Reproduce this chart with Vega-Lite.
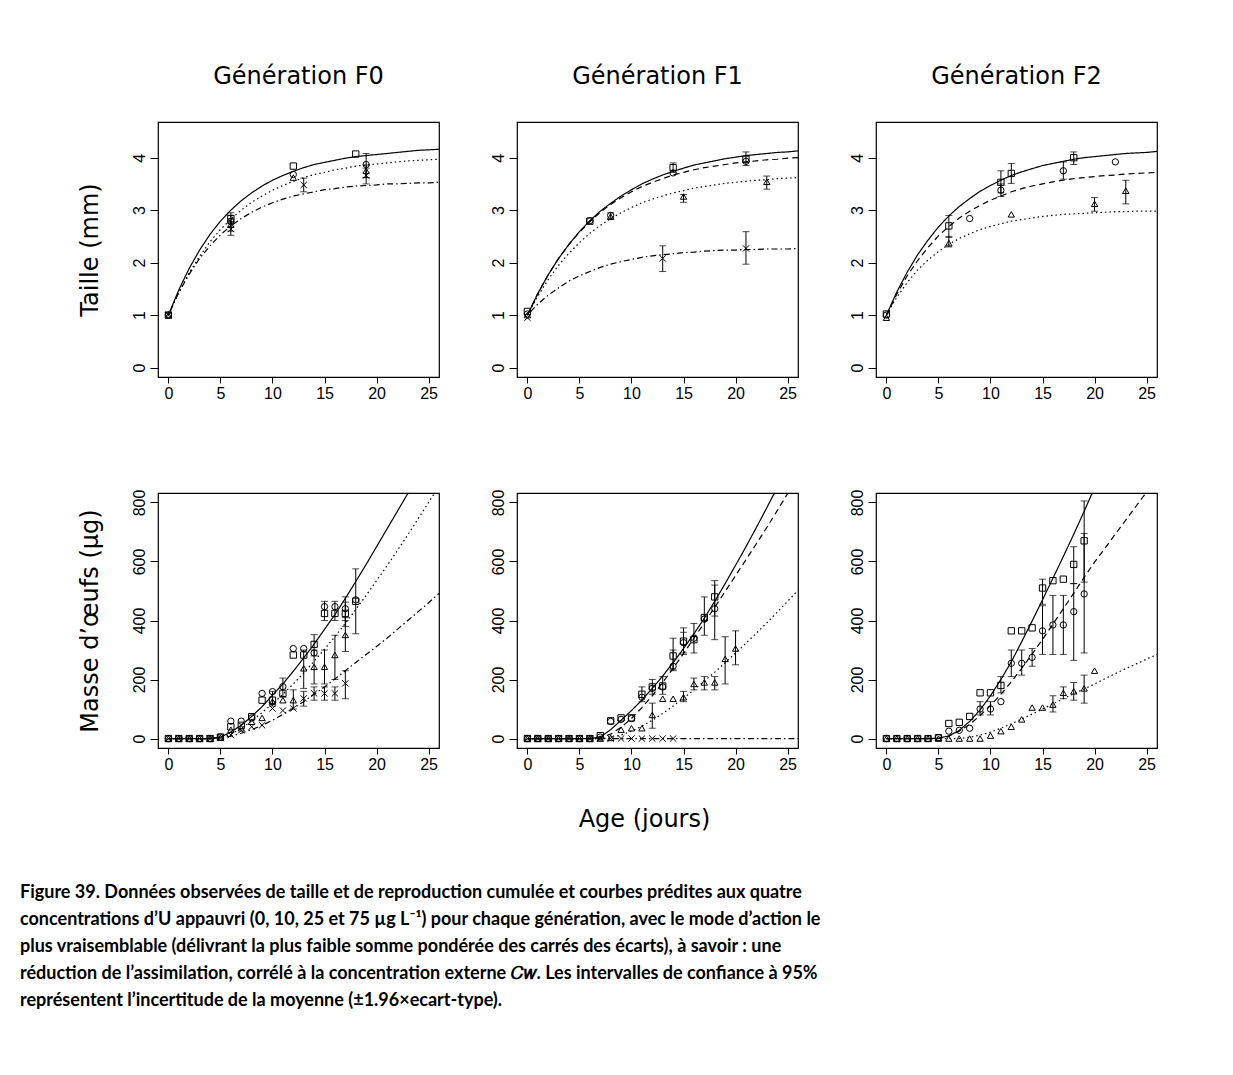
{
"$schema": "https://vega.github.io/schema/vega-lite/v6.json",
"background": "white",
"padding": {"left": 20, "top": 64, "right": 5, "bottom": 5},
"title": {
  "text": [
    "Figure 39. Données observées de taille et de reproduction cumulée et courbes prédites aux quatre",
    "concentrations d’U appauvri (0, 10, 25 et 75 µg L⁻¹) pour chaque génération, avec le mode d’action le",
    "plus vraisemblable (délivrant la plus faible somme pondérée des carrés des écarts), à savoir : une",
    "réduction de l’assimilation, corrélé à la concentration externe 𝐶𝑤. Les intervalles de confiance à 95%",
    "représentent l’incertitude de la moyenne (±1.96×ecart-type)."
  ],
  "orient": "bottom", "anchor": "start", "frame": "group", "dx": -138, "offset": 52,
  "baseline": "top", "align": "left",
  "font": "Lato", "fontSize": 18, "fontWeight": "bold", "color": "black", "lineHeight": 27
},
"config": {
  "view": {"stroke": "black", "strokeWidth": 1.2},
  "axis": {"grid": false, "domain": false, "tickColor": "black", "tickWidth": 1, "labelColor": "black", "labelFont": "Liberation Sans", "labelFontSize": 16, "titleFont": "DejaVu Sans", "titleFontSize": 24, "titleFontWeight": "normal", "titleColor": "black"},
  "axisX": {"tickSize": 6, "labelPadding": 2},
  "axisY": {"tickSize": 8, "labelPadding": 6, "labelAngle": -90, "labelAlign": "center", "labelBaseline": "alphabetic", "format": "d"},
  "title": {"font": "DejaVu Sans", "fontSize": 24, "fontWeight": "normal", "color": "black", "baseline": "alphabetic", "offset": 33}
},
"datasets": {
  "cT0": [
    {"x":0,"c0":1.00,"c25":1.00,"c75":1.00},{"x":1,"c0":1.48,"c25":1.43,"c75":1.43},{"x":2,"c0":1.89,"c25":1.81,"c75":1.78},{"x":3,"c0":2.24,"c25":2.12,"c75":2.08},{"x":4,"c0":2.54,"c25":2.40,"c75":2.32},{"x":5,"c0":2.79,"c25":2.63,"c75":2.53},{"x":6,"c0":3.00,"c25":2.83,"c75":2.70},{"x":7,"c0":3.18,"c25":3.00,"c75":2.84},{"x":8,"c0":3.33,"c25":3.15,"c75":2.96},{"x":9,"c0":3.46,"c25":3.27,"c75":3.06},{"x":10,"c0":3.57,"c25":3.38,"c75":3.14},{"x":11,"c0":3.66,"c25":3.47,"c75":3.21},{"x":12,"c0":3.74,"c25":3.55,"c75":3.27},{"x":13,"c0":3.81,"c25":3.62,"c75":3.31},{"x":14,"c0":3.87,"c25":3.68,"c75":3.35},{"x":15,"c0":3.91,"c25":3.72,"c75":3.39},{"x":16,"c0":3.95,"c25":3.77,"c75":3.41},{"x":17,"c0":3.99,"c25":3.80,"c75":3.44},{"x":18,"c0":4.02,"c25":3.84,"c75":3.46},{"x":19,"c0":4.04,"c25":3.86,"c75":3.47},{"x":20,"c0":4.06,"c25":3.88,"c75":3.48},{"x":21,"c0":4.08,"c25":3.90,"c75":3.50},{"x":22,"c0":4.10,"c25":3.92,"c75":3.50},{"x":23,"c0":4.12,"c25":3.94,"c75":3.51},{"x":24,"c0":4.14,"c25":3.95,"c75":3.52},{"x":25,"c0":4.15,"c25":3.96,"c75":3.52},{"x":26,"c0":4.16,"c25":3.97,"c75":3.53}
  ],
  "cT1": [
    {"x":0,"c0":1.00,"c10":1.00,"c25":1.00,"c75":1.00},{"x":1,"c0":1.41,"c10":1.41,"c25":1.36,"c75":1.21},{"x":2,"c0":1.77,"c10":1.77,"c25":1.68,"c75":1.38},{"x":3,"c0":2.08,"c10":2.08,"c25":1.95,"c75":1.52},{"x":4,"c0":2.35,"c10":2.35,"c25":2.18,"c75":1.65},{"x":5,"c0":2.59,"c10":2.58,"c25":2.38,"c75":1.75},{"x":6,"c0":2.80,"c10":2.78,"c25":2.56,"c75":1.83},{"x":7,"c0":2.98,"c10":2.96,"c25":2.71,"c75":1.91},{"x":8,"c0":3.13,"c10":3.11,"c25":2.84,"c75":1.97},{"x":9,"c0":3.27,"c10":3.24,"c25":2.95,"c75":2.02},{"x":10,"c0":3.39,"c10":3.35,"c25":3.05,"c75":2.06},{"x":11,"c0":3.50,"c10":3.45,"c25":3.14,"c75":2.10},{"x":12,"c0":3.59,"c10":3.53,"c25":3.21,"c75":2.13},{"x":13,"c0":3.67,"c10":3.60,"c25":3.27,"c75":2.15},{"x":14,"c0":3.74,"c10":3.67,"c25":3.33,"c75":2.17},{"x":15,"c0":3.80,"c10":3.72,"c25":3.37,"c75":2.19},{"x":16,"c0":3.86,"c10":3.77,"c25":3.42,"c75":2.20},{"x":17,"c0":3.90,"c10":3.81,"c25":3.45,"c75":2.22},{"x":18,"c0":3.94,"c10":3.84,"c25":3.48,"c75":2.23},{"x":19,"c0":3.98,"c10":3.87,"c25":3.51,"c75":2.24},{"x":20,"c0":4.01,"c10":3.90,"c25":3.53,"c75":2.24},{"x":21,"c0":4.04,"c10":3.92,"c25":3.55,"c75":2.25},{"x":22,"c0":4.06,"c10":3.94,"c25":3.57,"c75":2.25},{"x":23,"c0":4.08,"c10":3.96,"c25":3.58,"c75":2.26},{"x":24,"c0":4.10,"c10":3.97,"c25":3.60,"c75":2.26},{"x":25,"c0":4.11,"c10":3.99,"c25":3.61,"c75":2.26},{"x":26,"c0":4.13,"c10":4.00,"c25":3.62,"c75":2.27}
  ],
  "cT2": [
    {"x":0,"c0":1.00,"c10":1.00,"c25":1.00},{"x":1,"c0":1.44,"c10":1.40,"c25":1.34},{"x":2,"c0":1.82,"c10":1.75,"c25":1.62},{"x":3,"c0":2.15,"c10":2.04,"c25":1.86},{"x":4,"c0":2.43,"c10":2.29,"c25":2.05},{"x":5,"c0":2.68,"c10":2.51,"c25":2.21},{"x":6,"c0":2.89,"c10":2.69,"c25":2.35},{"x":7,"c0":3.07,"c10":2.85,"c25":2.46},{"x":8,"c0":3.22,"c10":2.98,"c25":2.55},{"x":9,"c0":3.36,"c10":3.09,"c25":2.63},{"x":10,"c0":3.47,"c10":3.19,"c25":2.69},{"x":11,"c0":3.57,"c10":3.27,"c25":2.74},{"x":12,"c0":3.66,"c10":3.35,"c25":2.79},{"x":13,"c0":3.73,"c10":3.41,"c25":2.82},{"x":14,"c0":3.79,"c10":3.46,"c25":2.85},{"x":15,"c0":3.85,"c10":3.50,"c25":2.88},{"x":16,"c0":3.89,"c10":3.54,"c25":2.90},{"x":17,"c0":3.93,"c10":3.57,"c25":2.92},{"x":18,"c0":3.97,"c10":3.60,"c25":2.93},{"x":19,"c0":4.00,"c10":3.62,"c25":2.94},{"x":20,"c0":4.02,"c10":3.64,"c25":2.95},{"x":21,"c0":4.04,"c10":3.66,"c25":2.96},{"x":22,"c0":4.06,"c10":3.67,"c25":2.97},{"x":23,"c0":4.08,"c10":3.69,"c25":2.97},{"x":24,"c0":4.09,"c10":3.70,"c25":2.98},{"x":25,"c0":4.10,"c10":3.71,"c25":2.98},{"x":26,"c0":4.12,"c10":3.72,"c25":2.98}
  ],
  "cM0": [
    {"x":0,"c0":0,"c25":0,"c75":0},{"x":4,"c0":0,"c25":0,"c75":0},{"x":5,"c0":5,"c25":3,"c75":2},{"x":6,"c0":22,"c25":15,"c75":8},{"x":7,"c0":45,"c25":35,"c75":18},{"x":8,"c0":75,"c25":60,"c75":30},{"x":9,"c0":108,"c25":88,"c75":45},{"x":10,"c0":147,"c25":118,"c75":62},{"x":11,"c0":185,"c25":150,"c75":82},{"x":12,"c0":228,"c25":185,"c75":103},{"x":13,"c0":273,"c25":222,"c75":125},{"x":14,"c0":320,"c25":262,"c75":150},{"x":15,"c0":370,"c25":303,"c75":175},{"x":16,"c0":420,"c25":345,"c75":202},{"x":17,"c0":475,"c25":390,"c75":230},{"x":18,"c0":532,"c25":437,"c75":258},{"x":19,"c0":590,"c25":485,"c75":285},{"x":20,"c0":650,"c25":535,"c75":312},{"x":21,"c0":710,"c25":585,"c75":340},{"x":22,"c0":770,"c25":637,"c75":370},{"x":23,"c0":830,"c25":690,"c75":400},{"x":24,"c0":890,"c25":745,"c75":430},{"x":25,"c0":950,"c25":800,"c75":460},{"x":26,"c0":1010,"c25":855,"c75":492}
  ],
  "cM1": [
    {"x":0,"c0":0,"c10":0,"c25":0,"c75":0},{"x":6,"c0":0,"c10":0,"c25":0,"c75":0},{"x":7,"c0":5,"c10":2,"c25":0,"c75":0},{"x":8,"c0":30,"c10":15,"c25":3,"c75":0},{"x":9,"c0":62,"c10":38,"c25":12,"c75":0},{"x":10,"c0":95,"c10":68,"c25":25,"c75":0},{"x":11,"c0":130,"c10":105,"c25":42,"c75":0},{"x":12,"c0":170,"c10":145,"c25":62,"c75":0},{"x":13,"c0":212,"c10":190,"c25":85,"c75":0},{"x":14,"c0":257,"c10":238,"c25":110,"c75":0},{"x":15,"c0":305,"c10":288,"c25":137,"c75":0},{"x":16,"c0":355,"c10":340,"c25":165,"c75":0},{"x":17,"c0":408,"c10":392,"c25":195,"c75":0},{"x":18,"c0":465,"c10":445,"c25":225,"c75":0},{"x":19,"c0":525,"c10":498,"c25":257,"c75":0},{"x":20,"c0":587,"c10":552,"c25":290,"c75":0},{"x":21,"c0":650,"c10":606,"c25":323,"c75":0},{"x":22,"c0":715,"c10":660,"c25":357,"c75":0},{"x":23,"c0":782,"c10":715,"c25":392,"c75":0},{"x":24,"c0":850,"c10":772,"c25":428,"c75":0},{"x":25,"c0":918,"c10":830,"c25":465,"c75":0},{"x":26,"c0":985,"c10":890,"c25":502,"c75":0}
  ],
  "cM2": [
    {"x":0,"c0":0,"c10":0,"c25":0},{"x":4,"c0":0,"c10":0,"c25":0},{"x":5,"c0":1,"c10":0,"c25":0},{"x":6,"c0":9,"c10":8,"c25":0},{"x":7,"c0":28,"c10":25,"c25":0},{"x":8,"c0":58,"c10":48,"c25":4},{"x":9,"c0":97,"c10":78,"c25":12},{"x":10,"c0":145,"c10":112,"c25":22},{"x":11,"c0":200,"c10":150,"c25":35},{"x":12,"c0":260,"c10":192,"c25":50},{"x":13,"c0":328,"c10":238,"c25":66},{"x":14,"c0":398,"c10":286,"c25":83},{"x":15,"c0":470,"c10":336,"c25":100},{"x":16,"c0":543,"c10":388,"c25":118},{"x":17,"c0":617,"c10":440,"c25":135},{"x":18,"c0":692,"c10":493,"c25":152},{"x":19,"c0":770,"c10":546,"c25":168},{"x":20,"c0":850,"c10":598,"c25":185},{"x":21,"c0":930,"c10":645,"c25":203},{"x":22,"c0":1010,"c10":693,"c25":220},{"x":23,"c0":1090,"c10":740,"c25":237},{"x":24,"c0":1170,"c10":788,"c25":253},{"x":25,"c0":1250,"c10":835,"c25":269},{"x":26,"c0":1330,"c10":882,"c25":285}
  ],
  "pT0": [
    {"c":"c0","x":0,"y":1.0},{"c":"c0","x":6,"y":2.84,"lo":2.75,"hi":2.95},{"c":"c0","x":12,"y":3.84},{"c":"c0","x":18,"y":4.07},
    {"c":"c10","x":0,"y":1.0},{"c":"c10","x":6,"y":2.78,"lo":2.68,"hi":2.9},{"c":"c10","x":12,"y":3.68},{"c":"c10","x":19,"y":3.87,"lo":3.62,"hi":4.08},
    {"c":"c25","x":0,"y":1.0},{"c":"c25","x":6,"y":2.72,"lo":2.6,"hi":2.84},{"c":"c25","x":12,"y":3.62},{"c":"c25","x":19,"y":3.75,"lo":3.62,"hi":3.86},
    {"c":"c75","x":0,"y":1.0},{"c":"c75","x":6,"y":2.64,"lo":2.52,"hi":2.76},{"c":"c75","x":13,"y":3.48,"lo":3.35,"hi":3.61},{"c":"c75","x":19,"y":3.66,"lo":3.5,"hi":3.8}
  ],
  "pT1": [
    {"c":"c0","x":0,"y":1.07},{"c":"c0","x":6,"y":2.79},{"c":"c0","x":14,"y":3.81,"lo":3.72,"hi":3.9},{"c":"c0","x":21,"y":3.97,"lo":3.85,"hi":4.11},
    {"c":"c10","x":0,"y":1.02},{"c":"c10","x":6,"y":2.8},{"c":"c10","x":8,"y":2.9},{"c":"c10","x":14,"y":3.71},{"c":"c10","x":21,"y":3.93},
    {"c":"c25","x":0,"y":1.0},{"c":"c25","x":8,"y":2.88,"lo":2.82,"hi":2.95},{"c":"c25","x":15,"y":3.26,"lo":3.15,"hi":3.3},{"c":"c25","x":23,"y":3.54,"lo":3.4,"hi":3.65},
    {"c":"c75","x":0,"y":0.95},{"c":"c75","x":13,"y":2.08,"lo":1.83,"hi":2.32},{"c":"c75","x":21,"y":2.27,"lo":1.97,"hi":2.59}
  ],
  "pT2": [
    {"c":"c0","x":0,"y":1.02},{"c":"c0","x":6,"y":2.7,"lo":2.48,"hi":2.9},{"c":"c0","x":11,"y":3.53,"lo":3.33,"hi":3.75},{"c":"c0","x":12,"y":3.7,"lo":3.51,"hi":3.89},{"c":"c0","x":18,"y":4.0,"lo":3.87,"hi":4.11},
    {"c":"c10","x":0,"y":1.0},{"c":"c10","x":8,"y":2.84},{"c":"c10","x":11,"y":3.38,"lo":3.26,"hi":3.5},{"c":"c10","x":17,"y":3.75,"lo":3.59,"hi":3.92},{"c":"c10","x":22,"y":3.92},
    {"c":"c25","x":0,"y":0.95},{"c":"c25","x":6,"y":2.37,"lo":2.3,"hi":2.5},{"c":"c25","x":12,"y":2.92},{"c":"c25","x":20,"y":3.12,"lo":2.98,"hi":3.24},{"c":"c25","x":23,"y":3.37,"lo":3.12,"hi":3.57}
  ],
  "pM0": [
    {"c":"c0","x":0,"y":0},{"c":"c0","x":1,"y":0},{"c":"c0","x":2,"y":0},{"c":"c0","x":3,"y":0},{"c":"c0","x":4,"y":0},{"c":"c0","x":5,"y":5},{"c":"c0","x":6,"y":40},{"c":"c0","x":7,"y":45},{"c":"c0","x":8,"y":74},{"c":"c0","x":9,"y":130},{"c":"c0","x":10,"y":130,"lo":110,"hi":160},{"c":"c0","x":11,"y":153,"lo":140,"hi":205},{"c":"c0","x":12,"y":283},{"c":"c0","x":13,"y":283},{"c":"c0","x":14,"y":319,"lo":280,"hi":352},{"c":"c0","x":15,"y":424,"lo":400,"hi":465},{"c":"c0","x":16,"y":424,"lo":400,"hi":465},{"c":"c0","x":17,"y":424,"lo":400,"hi":462},{"c":"c0","x":18,"y":465,"lo":355,"hi":575},
    {"c":"c10","x":0,"y":0},{"c":"c10","x":1,"y":0},{"c":"c10","x":2,"y":0},{"c":"c10","x":3,"y":0},{"c":"c10","x":4,"y":0},{"c":"c10","x":5,"y":5},{"c":"c10","x":6,"y":59},{"c":"c10","x":7,"y":59},{"c":"c10","x":8,"y":70},{"c":"c10","x":9,"y":153},{"c":"c10","x":10,"y":159},{"c":"c10","x":11,"y":176},{"c":"c10","x":12,"y":305},{"c":"c10","x":13,"y":305},{"c":"c10","x":14,"y":290},{"c":"c10","x":15,"y":447},{"c":"c10","x":16,"y":447},{"c":"c10","x":17,"y":440,"lo":380,"hi":480},{"c":"c10","x":18,"y":470},
    {"c":"c25","x":0,"y":0},{"c":"c25","x":1,"y":0},{"c":"c25","x":2,"y":0},{"c":"c25","x":3,"y":0},{"c":"c25","x":4,"y":0},{"c":"c25","x":5,"y":3},{"c":"c25","x":6,"y":30},{"c":"c25","x":7,"y":35},{"c":"c25","x":8,"y":57},{"c":"c25","x":9,"y":70},{"c":"c25","x":10,"y":125},{"c":"c25","x":11,"y":130},{"c":"c25","x":12,"y":130,"lo":100,"hi":165},{"c":"c25","x":13,"y":238,"lo":170,"hi":300},{"c":"c25","x":14,"y":243,"lo":185,"hi":300},{"c":"c25","x":15,"y":243,"lo":185,"hi":300},{"c":"c25","x":16,"y":283,"lo":200,"hi":350},{"c":"c25","x":17,"y":351,"lo":295,"hi":410},
    {"c":"c75","x":0,"y":0},{"c":"c75","x":1,"y":0},{"c":"c75","x":2,"y":0},{"c":"c75","x":3,"y":0},{"c":"c75","x":4,"y":0},{"c":"c75","x":5,"y":2},{"c":"c75","x":6,"y":12},{"c":"c75","x":7,"y":28},{"c":"c75","x":8,"y":40},{"c":"c75","x":9,"y":45},{"c":"c75","x":10,"y":102},{"c":"c75","x":11,"y":95},{"c":"c75","x":12,"y":102},{"c":"c75","x":13,"y":136,"lo":110,"hi":160},{"c":"c75","x":14,"y":153,"lo":130,"hi":175},{"c":"c75","x":15,"y":153,"lo":130,"hi":175},{"c":"c75","x":16,"y":153,"lo":130,"hi":175},{"c":"c75","x":17,"y":187,"lo":135,"hi":230}
  ],
  "pM1": [
    {"c":"c0","x":0,"y":0},{"c":"c0","x":1,"y":0},{"c":"c0","x":2,"y":0},{"c":"c0","x":3,"y":0},{"c":"c0","x":4,"y":0},{"c":"c0","x":5,"y":0},{"c":"c0","x":6,"y":0},{"c":"c0","x":7,"y":10},{"c":"c0","x":8,"y":60},{"c":"c0","x":9,"y":70},{"c":"c0","x":10,"y":70},{"c":"c0","x":11,"y":150,"lo":125,"hi":175},{"c":"c0","x":12,"y":175,"lo":150,"hi":200},{"c":"c0","x":13,"y":178,"lo":150,"hi":210},{"c":"c0","x":14,"y":280,"lo":235,"hi":340},{"c":"c0","x":15,"y":330,"lo":290,"hi":375},{"c":"c0","x":16,"y":335,"lo":290,"hi":390},{"c":"c0","x":17,"y":410,"lo":350,"hi":480},{"c":"c0","x":18,"y":480,"lo":415,"hi":535},
    {"c":"c10","x":0,"y":0},{"c":"c10","x":1,"y":0},{"c":"c10","x":2,"y":0},{"c":"c10","x":3,"y":0},{"c":"c10","x":4,"y":0},{"c":"c10","x":5,"y":0},{"c":"c10","x":6,"y":0},{"c":"c10","x":7,"y":5},{"c":"c10","x":8,"y":58},{"c":"c10","x":9,"y":65},{"c":"c10","x":10,"y":68},{"c":"c10","x":11,"y":140},{"c":"c10","x":12,"y":170},{"c":"c10","x":13,"y":175},{"c":"c10","x":14,"y":245,"lo":230,"hi":300},{"c":"c10","x":15,"y":325,"lo":285,"hi":360},{"c":"c10","x":16,"y":340},{"c":"c10","x":17,"y":405},{"c":"c10","x":18,"y":440,"lo":335,"hi":520},
    {"c":"c25","x":0,"y":0},{"c":"c25","x":1,"y":0},{"c":"c25","x":2,"y":0},{"c":"c25","x":3,"y":0},{"c":"c25","x":4,"y":0},{"c":"c25","x":5,"y":0},{"c":"c25","x":6,"y":0},{"c":"c25","x":7,"y":0},{"c":"c25","x":8,"y":2},{"c":"c25","x":9,"y":30},{"c":"c25","x":10,"y":35},{"c":"c25","x":11,"y":35},{"c":"c25","x":12,"y":80,"lo":35,"hi":120},{"c":"c25","x":13,"y":135},{"c":"c25","x":14,"y":135},{"c":"c25","x":15,"y":140,"lo":125,"hi":160},{"c":"c25","x":16,"y":185,"lo":165,"hi":205},{"c":"c25","x":17,"y":190,"lo":165,"hi":210},{"c":"c25","x":18,"y":190,"lo":165,"hi":210},{"c":"c25","x":19,"y":270,"lo":185,"hi":345},{"c":"c25","x":20,"y":305,"lo":250,"hi":365},
    {"c":"c75","x":0,"y":0},{"c":"c75","x":1,"y":0},{"c":"c75","x":2,"y":0},{"c":"c75","x":3,"y":0},{"c":"c75","x":4,"y":0},{"c":"c75","x":5,"y":0},{"c":"c75","x":6,"y":0},{"c":"c75","x":7,"y":0},{"c":"c75","x":8,"y":0},{"c":"c75","x":9,"y":0},{"c":"c75","x":10,"y":0},{"c":"c75","x":11,"y":0},{"c":"c75","x":12,"y":0},{"c":"c75","x":13,"y":0},{"c":"c75","x":14,"y":0}
  ],
  "pM2": [
    {"c":"c0","x":0,"y":0},{"c":"c0","x":1,"y":0},{"c":"c0","x":2,"y":0},{"c":"c0","x":3,"y":0},{"c":"c0","x":4,"y":0},{"c":"c0","x":5,"y":3},{"c":"c0","x":6,"y":51},{"c":"c0","x":7,"y":55},{"c":"c0","x":8,"y":75},{"c":"c0","x":9,"y":155},{"c":"c0","x":10,"y":155},{"c":"c0","x":11,"y":180,"lo":155,"hi":210},{"c":"c0","x":12,"y":365},{"c":"c0","x":13,"y":365},{"c":"c0","x":14,"y":375},{"c":"c0","x":15,"y":510,"lo":455,"hi":540},{"c":"c0","x":16,"y":535},{"c":"c0","x":17,"y":540},{"c":"c0","x":18,"y":590,"lo":525,"hi":650},{"c":"c0","x":19,"y":670,"lo":530,"hi":805},
    {"c":"c10","x":0,"y":0},{"c":"c10","x":1,"y":0},{"c":"c10","x":2,"y":0},{"c":"c10","x":3,"y":0},{"c":"c10","x":4,"y":0},{"c":"c10","x":5,"y":3},{"c":"c10","x":6,"y":25},{"c":"c10","x":7,"y":28},{"c":"c10","x":8,"y":35},{"c":"c10","x":9,"y":100,"lo":80,"hi":125},{"c":"c10","x":10,"y":100,"lo":80,"hi":125},{"c":"c10","x":11,"y":125},{"c":"c10","x":12,"y":255,"lo":210,"hi":300},{"c":"c10","x":13,"y":255,"lo":215,"hi":300},{"c":"c10","x":14,"y":275,"lo":245,"hi":305},{"c":"c10","x":15,"y":365,"lo":285,"hi":450},{"c":"c10","x":16,"y":385,"lo":285,"hi":485},{"c":"c10","x":17,"y":385,"lo":285,"hi":485},{"c":"c10","x":18,"y":430,"lo":265,"hi":525},{"c":"c10","x":19,"y":490,"lo":290,"hi":695},
    {"c":"c25","x":0,"y":0},{"c":"c25","x":1,"y":0},{"c":"c25","x":2,"y":0},{"c":"c25","x":3,"y":0},{"c":"c25","x":4,"y":0},{"c":"c25","x":5,"y":0},{"c":"c25","x":6,"y":0},{"c":"c25","x":7,"y":0},{"c":"c25","x":8,"y":0},{"c":"c25","x":9,"y":0},{"c":"c25","x":10,"y":10},{"c":"c25","x":11,"y":25},{"c":"c25","x":12,"y":40},{"c":"c25","x":13,"y":65},{"c":"c25","x":14,"y":105},{"c":"c25","x":15,"y":105},{"c":"c25","x":16,"y":115,"lo":90,"hi":145},{"c":"c25","x":17,"y":155,"lo":135,"hi":175},{"c":"c25","x":18,"y":160,"lo":130,"hi":190},{"c":"c25","x":19,"y":170,"lo":120,"hi":215},{"c":"c25","x":20,"y":230}
  ]
},
"columns": 3,
"bounds": "flush",
"spacing": {"row": 116, "column": 78},
"concat": [
  {
    "width": 281, "height": 255, "title": {"text": "Génération F0"},
    "encoding": {"x": {"field": "x", "type": "quantitative", "scale": {"domain": [-1, 26], "nice": false, "zero": false}, "axis": {"values": [0,5,10,15,20,25], "title": null}}},
    "layer": [
      {"data": {"name": "cT0"}, "transform": [{"fold": ["c0","c25","c75"], "as": ["c","y"]}],
       "mark": {"type": "line", "clip": true, "color": "black", "strokeWidth": 1.2},
       "encoding": {"y": {"field": "y", "type": "quantitative", "scale": {"domain": [-0.18, 4.68], "nice": false, "zero": false}, "axis": {"values": [0,1,2,3,4], "title": "Taille (mm)", "titleX": -68, "titleY": 127.5, "titleAngle": -90, "titleAlign": "center", "titleBaseline": "middle"}},
                    "strokeDash": {"field": "c", "type": "nominal", "scale": {"domain": ["c0","c10","c25","c75"], "range": [[1,0],[6,4],[1.5,3],[1.5,3,6,3]]}, "legend": null}}},
      {"data": {"name": "pT0"}, "transform": [{"filter": "isValid(datum.lo)"}],
       "mark": {"type": "errorbar", "ticks": {"size": 7, "color": "black"}, "rule": {"color": "black", "strokeWidth": 1}},
       "encoding": {"y": {"field": "lo", "type": "quantitative", "title": "Taille (mm)"}, "y2": {"field": "hi"}}},
      {"data": {"name": "pT0"}, "mark": {"type": "point", "filled": false, "stroke": "black", "strokeWidth": 1, "size": 40, "opacity": 1},
       "encoding": {"y": {"field": "y", "type": "quantitative", "title": "Taille (mm)"}, "shape": {"field": "c", "type": "nominal", "scale": {"domain": ["c0","c10","c25","c75"], "range": ["square","circle","triangle-up","M-1,-1L1,1M-1,1L1,-1"]}, "legend": null}}}
    ]
  },
  {
    "width": 281, "height": 255, "title": {"text": "Génération F1"},
    "encoding": {"x": {"field": "x", "type": "quantitative", "scale": {"domain": [-1, 26], "nice": false, "zero": false}, "axis": {"values": [0,5,10,15,20,25], "title": null}}},
    "layer": [
      {"data": {"name": "cT1"}, "transform": [{"fold": ["c0","c10","c25","c75"], "as": ["c","y"]}],
       "mark": {"type": "line", "clip": true, "color": "black", "strokeWidth": 1.2},
       "encoding": {"y": {"field": "y", "type": "quantitative", "scale": {"domain": [-0.18, 4.68], "nice": false, "zero": false}, "axis": {"values": [0,1,2,3,4], "title": null}},
                    "strokeDash": {"field": "c", "type": "nominal", "scale": {"domain": ["c0","c10","c25","c75"], "range": [[1,0],[6,4],[1.5,3],[1.5,3,6,3]]}, "legend": null}}},
      {"data": {"name": "pT1"}, "transform": [{"filter": "isValid(datum.lo)"}],
       "mark": {"type": "errorbar", "ticks": {"size": 7, "color": "black"}, "rule": {"color": "black", "strokeWidth": 1}},
       "encoding": {"y": {"field": "lo", "type": "quantitative", "title": null}, "y2": {"field": "hi"}}},
      {"data": {"name": "pT1"}, "mark": {"type": "point", "filled": false, "stroke": "black", "strokeWidth": 1, "size": 40, "opacity": 1},
       "encoding": {"y": {"field": "y", "type": "quantitative", "title": null}, "shape": {"field": "c", "type": "nominal", "scale": {"domain": ["c0","c10","c25","c75"], "range": ["square","circle","triangle-up","M-1,-1L1,1M-1,1L1,-1"]}, "legend": null}}}
    ]
  },
  {
    "width": 281, "height": 255, "title": {"text": "Génération F2"},
    "encoding": {"x": {"field": "x", "type": "quantitative", "scale": {"domain": [-1, 26], "nice": false, "zero": false}, "axis": {"values": [0,5,10,15,20,25], "title": null}}},
    "layer": [
      {"data": {"name": "cT2"}, "transform": [{"fold": ["c0","c10","c25"], "as": ["c","y"]}],
       "mark": {"type": "line", "clip": true, "color": "black", "strokeWidth": 1.2},
       "encoding": {"y": {"field": "y", "type": "quantitative", "scale": {"domain": [-0.18, 4.68], "nice": false, "zero": false}, "axis": {"values": [0,1,2,3,4], "title": null}},
                    "strokeDash": {"field": "c", "type": "nominal", "scale": {"domain": ["c0","c10","c25","c75"], "range": [[1,0],[6,4],[1.5,3],[1.5,3,6,3]]}, "legend": null}}},
      {"data": {"name": "pT2"}, "transform": [{"filter": "isValid(datum.lo)"}],
       "mark": {"type": "errorbar", "ticks": {"size": 7, "color": "black"}, "rule": {"color": "black", "strokeWidth": 1}},
       "encoding": {"y": {"field": "lo", "type": "quantitative", "title": null}, "y2": {"field": "hi"}}},
      {"data": {"name": "pT2"}, "mark": {"type": "point", "filled": false, "stroke": "black", "strokeWidth": 1, "size": 40, "opacity": 1},
       "encoding": {"y": {"field": "y", "type": "quantitative", "title": null}, "shape": {"field": "c", "type": "nominal", "scale": {"domain": ["c0","c10","c25","c75"], "range": ["square","circle","triangle-up","M-1,-1L1,1M-1,1L1,-1"]}, "legend": null}}}
    ]
  },
  {
    "width": 281, "height": 255,
    "encoding": {"x": {"field": "x", "type": "quantitative", "scale": {"domain": [-1, 26], "nice": false, "zero": false}, "axis": {"values": [0,5,10,15,20,25], "title": null}}},
    "layer": [
      {"data": {"name": "cM0"}, "transform": [{"fold": ["c0","c25","c75"], "as": ["c","y"]}],
       "mark": {"type": "line", "clip": true, "color": "black", "strokeWidth": 1.2},
       "encoding": {"y": {"field": "y", "type": "quantitative", "scale": {"domain": [-32, 832], "nice": false, "zero": false}, "axis": {"values": [0,200,400,600,800], "title": "Masse d’œufs (µg)", "titleX": -68, "titleY": 127.5, "titleAngle": -90, "titleAlign": "center", "titleBaseline": "middle"}},
                    "strokeDash": {"field": "c", "type": "nominal", "scale": {"domain": ["c0","c10","c25","c75"], "range": [[1,0],[6,4],[1.5,3],[1.5,3,6,3]]}, "legend": null}}},
      {"data": {"name": "pM0"}, "transform": [{"filter": "isValid(datum.lo)"}],
       "mark": {"type": "errorbar", "ticks": {"size": 7, "color": "black"}, "rule": {"color": "black", "strokeWidth": 1}},
       "encoding": {"y": {"field": "lo", "type": "quantitative", "title": "Masse d’œufs (µg)"}, "y2": {"field": "hi"}}},
      {"data": {"name": "pM0"}, "mark": {"type": "point", "filled": false, "stroke": "black", "strokeWidth": 1, "size": 40, "opacity": 1},
       "encoding": {"y": {"field": "y", "type": "quantitative", "title": "Masse d’œufs (µg)"}, "shape": {"field": "c", "type": "nominal", "scale": {"domain": ["c0","c10","c25","c75"], "range": ["square","circle","triangle-up","M-1,-1L1,1M-1,1L1,-1"]}, "legend": null}}}
    ]
  },
  {
    "width": 281, "height": 255,
    "encoding": {"x": {"field": "x", "type": "quantitative", "scale": {"domain": [-1, 26], "nice": false, "zero": false}, "axis": {"values": [0,5,10,15,20,25], "title": "Age (jours)", "titleX": 127, "titleY": 78, "titleAlign": "center", "titleBaseline": "alphabetic"}}},
    "layer": [
      {"data": {"name": "cM1"}, "transform": [{"fold": ["c0","c10","c25","c75"], "as": ["c","y"]}],
       "mark": {"type": "line", "clip": true, "color": "black", "strokeWidth": 1.2},
       "encoding": {"y": {"field": "y", "type": "quantitative", "scale": {"domain": [-32, 832], "nice": false, "zero": false}, "axis": {"values": [0,200,400,600,800], "title": null}},
                    "strokeDash": {"field": "c", "type": "nominal", "scale": {"domain": ["c0","c10","c25","c75"], "range": [[1,0],[6,4],[1.5,3],[1.5,3,6,3]]}, "legend": null}}},
      {"data": {"name": "pM1"}, "transform": [{"filter": "isValid(datum.lo)"}],
       "mark": {"type": "errorbar", "ticks": {"size": 7, "color": "black"}, "rule": {"color": "black", "strokeWidth": 1}},
       "encoding": {"y": {"field": "lo", "type": "quantitative", "title": null}, "y2": {"field": "hi"}}},
      {"data": {"name": "pM1"}, "mark": {"type": "point", "filled": false, "stroke": "black", "strokeWidth": 1, "size": 40, "opacity": 1},
       "encoding": {"y": {"field": "y", "type": "quantitative", "title": null}, "shape": {"field": "c", "type": "nominal", "scale": {"domain": ["c0","c10","c25","c75"], "range": ["square","circle","triangle-up","M-1,-1L1,1M-1,1L1,-1"]}, "legend": null}}}
    ]
  },
  {
    "width": 281, "height": 255,
    "encoding": {"x": {"field": "x", "type": "quantitative", "scale": {"domain": [-1, 26], "nice": false, "zero": false}, "axis": {"values": [0,5,10,15,20,25], "title": null}}},
    "layer": [
      {"data": {"name": "cM2"}, "transform": [{"fold": ["c0","c10","c25"], "as": ["c","y"]}],
       "mark": {"type": "line", "clip": true, "color": "black", "strokeWidth": 1.2},
       "encoding": {"y": {"field": "y", "type": "quantitative", "scale": {"domain": [-32, 832], "nice": false, "zero": false}, "axis": {"values": [0,200,400,600,800], "title": null}},
                    "strokeDash": {"field": "c", "type": "nominal", "scale": {"domain": ["c0","c10","c25","c75"], "range": [[1,0],[6,4],[1.5,3],[1.5,3,6,3]]}, "legend": null}}},
      {"data": {"name": "pM2"}, "transform": [{"filter": "isValid(datum.lo)"}],
       "mark": {"type": "errorbar", "ticks": {"size": 7, "color": "black"}, "rule": {"color": "black", "strokeWidth": 1}},
       "encoding": {"y": {"field": "lo", "type": "quantitative", "title": null}, "y2": {"field": "hi"}}},
      {"data": {"name": "pM2"}, "mark": {"type": "point", "filled": false, "stroke": "black", "strokeWidth": 1, "size": 40, "opacity": 1},
       "encoding": {"y": {"field": "y", "type": "quantitative", "title": null}, "shape": {"field": "c", "type": "nominal", "scale": {"domain": ["c0","c10","c25","c75"], "range": ["square","circle","triangle-up","M-1,-1L1,1M-1,1L1,-1"]}, "legend": null}}}
    ]
  }
]
}
